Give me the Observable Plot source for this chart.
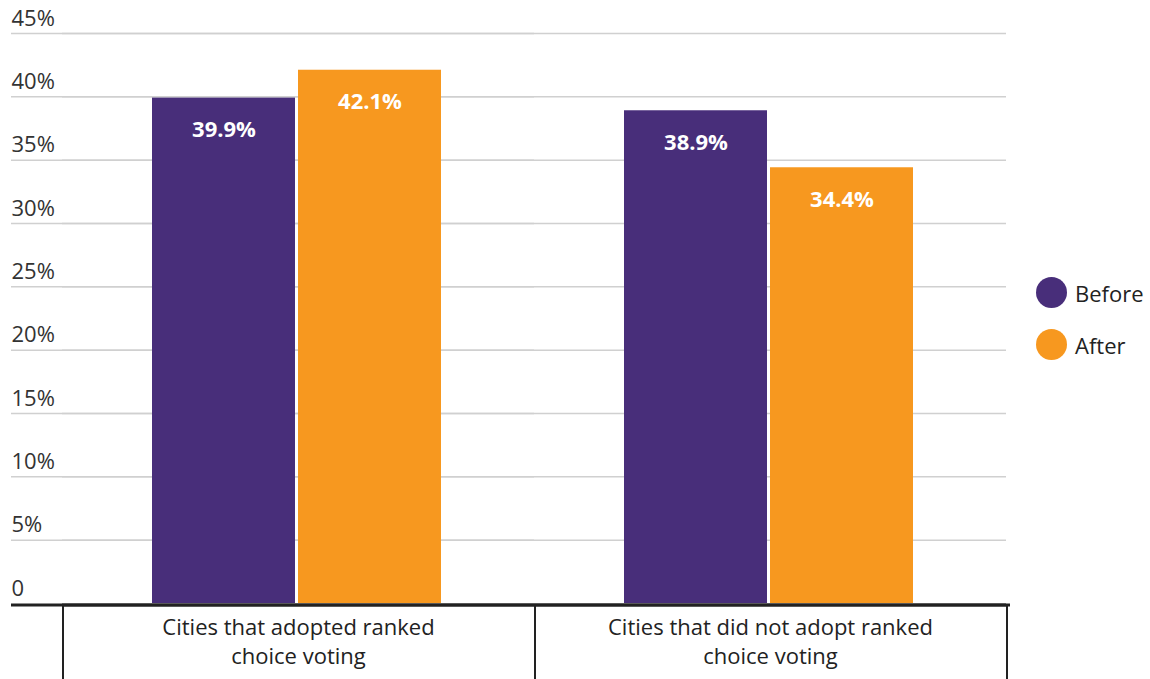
<!DOCTYPE html>
<html><head><meta charset="utf-8">
<script src="https://cdn.jsdelivr.net/npm/d3@7"></script>
<script src="https://cdn.jsdelivr.net/npm/@observablehq/plot@0.6"></script>
<style>
body{margin:0;background:#fff;font-family:"Open Sans", sans-serif}
#wrap{position:relative;width:1150px;height:679px;overflow:hidden}
#legend{position:absolute;left:1036px;top:277px;}
.item{display:flex;align-items:center;height:31px;margin-bottom:21px;font-size:22px;color:#222}
.sw{width:31px;height:31px;border-radius:50%;margin-right:8px}
</style></head><body><div id="wrap"><div id="chart"></div><div id="legend"></div></div>
<script>
const categories = ["Cities that adopted ranked choice voting", "Cities that did not adopt ranked choice voting"];
const categoryLabels = ["Cities that adopted ranked\nchoice voting", "Cities that did not adopt ranked\nchoice voting"];
const series = ["Before", "After"];
const before = [39.9, 38.9];
const after = [42.1, 34.4];
const yTicks = [0, 5, 10, 15, 20, 25, 30, 35, 40, 45];
const colors = ["#482e7a", "#f7981f"];

const data = categories.flatMap((c, i) => [
  {category: c, series: "Before", value: before[i]},
  {category: c, series: "After", value: after[i]}
]);
const grid = yTicks.filter(d => d > 0);
const FONT = "'Open Sans', sans-serif";

const plot = Plot.plot({
  width: 1150, height: 679,
  marginLeft: 62, marginRight: 144, marginTop: 33, marginBottom: 76,
  style: {fontFamily: FONT, fontSize: "22px", color: "#333", background: "transparent", overflow: "visible"},
  fx: {domain: categories, padding: 0, label: null},
  x: {domain: series, paddingInner: 0.0204, paddingOuter: 0.6157, axis: null},
  y: {domain: [0, 45]},
  color: {domain: series, range: colors},
  marks: [
    Plot.ruleY(grid, {stroke: "#d0d0d0", strokeWidth: 1.5}),
    Plot.ruleY(grid, {y: d => d, fx: () => categories[0], stroke: "#d0d0d0", strokeWidth: 1.5, insetLeft: -51}),
    Plot.barY(data, {fx: "category", x: "series", y: "value", fill: "series", dx: -1}),
    Plot.text(data, {fx: "category", x: "series", y: "value", text: d => d.value.toFixed(1) + "%", fill: "white", fontWeight: "bold", fontSize: 22, dy: 32, dx: -1}),
    Plot.ruleY([0], {stroke: "#222", strokeWidth: 3, dy: 1.5}),
    Plot.ruleY([0], {y: d => d, fx: () => categories[0], stroke: "#222", strokeWidth: 3, insetLeft: -51, dy: 1.5}),
    Plot.ruleY([0], {y: d => d, fx: () => categories[1], stroke: "#222", strokeWidth: 3, insetRight: -4, dy: 1.5}),
    Plot.axisY(yTicks, {anchor: "left", tickSize: 0, tickPadding: 51, textAnchor: "start", lineAnchor: "bottom", dy: -8, tickFormat: d => d === 0 ? "0" : d + "%", fill: "#333", fontSize: 22, label: null}),
    Plot.axisFx({anchor: "bottom", tickSize: 0, tickPadding: 11, tickFormat: d => categoryLabels[categories.indexOf(d)], lineHeight: 1.32, fill: "#222", fontSize: 22, label: null})
  ]
});
document.getElementById("chart").appendChild(plot);

// category dividers from the fx scale
const fx = plot.scale("fx");
const yS = plot.scale("y");
const y0 = yS.apply(0);
const edges = categories.map(c => fx.apply(c)).concat([fx.apply(categories[categories.length - 1]) + fx.bandwidth]);
const svg = d3.select(plot);
svg.append("g").selectAll("line").data(edges).join("line")
  .attr("x1", d => d + 1).attr("x2", d => d + 1)
  .attr("y1", y0 + 1).attr("y2", 679)
  .attr("stroke", "#222").attr("stroke-width", 2);

const legend = d3.select("#legend");
series.forEach((s, i) => {
  const it = legend.append("div").attr("class", "item");
  it.append("div").attr("class", "sw").style("background", colors[i]);
  it.append("span").text(s);
});
</script></body></html>
